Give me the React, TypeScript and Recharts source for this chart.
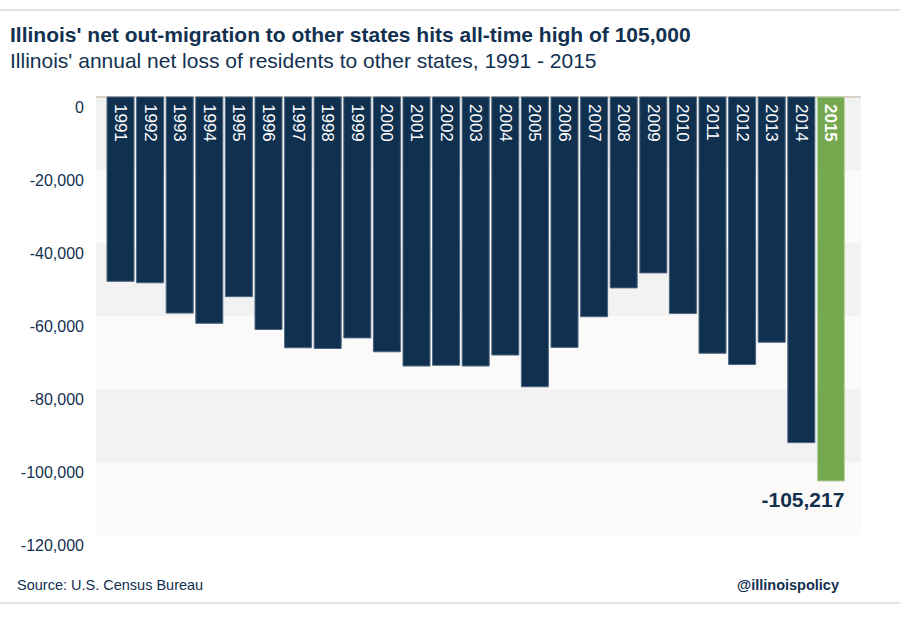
import React from "react";
import { BarChart, Bar, XAxis, YAxis, CartesianGrid, Cell, LabelList } from "recharts";

const years = [
  "1991", "1992", "1993", "1994", "1995", "1996", "1997", "1998", "1999", "2000",
  "2001", "2002", "2003", "2004", "2005", "2006", "2007", "2008", "2009", "2010",
  "2011", "2012", "2013", "2014", "2015",
];
const netMigration = [
  -50500, -50900, -59200, -62000, -54700, -63700, -68700, -68900, -66000, -69800,
  -73700, -73500, -73700, -70700, -79400, -68600, -60200, -52300, -48200, -59300,
  -70200, -73300, -67200, -94700, -105217,
];
const yTicks = [0, -20000, -40000, -60000, -80000, -100000, -120000];
const highlightYear = "2015";

const NAVY = "#12304f";
const BAR = "#10304f";
const GREEN = "#76a84f";
const BAND_DARK = "#f2f2f2";
const BAND_LIGHT = "#fbfaf9";
const FONT = "'Liberation Sans', Arial, sans-serif";

const data = years.map((year, i) => ({ year, value: netMigration[i] }));
const fmt = (v: number) => v.toLocaleString("en-US");

function YTick({ x, y, payload }: any) {
  return (
    <text x={x} y={y + 10} textAnchor="end" dominantBaseline="central" fill={NAVY} fontSize={16} fontFamily={FONT}>
      {fmt(payload.value)}
    </text>
  );
}

function YearLabel({ x, y, width, height, value }: any) {
  const top = Math.min(y, y + height);
  const cx = x + width / 2;
  return (
    <text
      transform={`translate(${cx},${top + 7}) rotate(90)`}
      dominantBaseline="central"
      fill="#ffffff"
      fontSize={17}
      fontFamily={FONT}
      fontWeight={value === highlightYear ? "bold" : "normal"}
    >
      {value}
    </text>
  );
}

function ValueLabel({ x, y, width, height, index }: any) {
  if (years[index] !== highlightYear) return null;
  const bottom = Math.max(y, y + height);
  return (
    <text x={x + width} y={bottom + 18} textAnchor="end" dominantBaseline="central" fill={NAVY} fontSize={21} fontWeight="bold" fontFamily={FONT}>
      {fmt(netMigration[index])}
    </text>
  );
}

export default function App() {
  return (
    <div style={{ position: "relative", width: 900, height: 620, background: "#fff", overflow: "hidden" }}>
      <style>{`body{margin:0}`}</style>
      <div style={{ position: "absolute", left: 0, top: 9, width: 900, height: 2, background: "#e6e3df" }} />
      <div style={{ position: "absolute", left: 10, top: 23, fontFamily: FONT, fontWeight: "bold", fontSize: 21, color: NAVY, whiteSpace: "nowrap" }}>
        Illinois' net out-migration to other states hits all-time high of 105,000
      </div>
      <div style={{ position: "absolute", left: 10, top: 49, fontFamily: FONT, fontSize: 21, color: NAVY, whiteSpace: "nowrap" }}>
        Illinois' annual net loss of residents to other states, 1991 - 2015
      </div>
      <div style={{ position: "absolute", left: 0, top: 0 }}>
        <BarChart width={900} height={620} data={data} margin={{ top: 97, right: 39, bottom: 85, left: 10 }}>
          <CartesianGrid vertical={false} stroke="none" horizontalFill={[BAND_DARK, BAND_LIGHT]} fillOpacity={1} />
          {/* zero line sits on the top edge of the plot, since the domain tops out at 0 */}
          <CartesianGrid
            vertical={false}
            stroke="#d9d0c6"
            strokeWidth={2}
            horizontalCoordinatesGenerator={({ offset }: any) => [offset.top]}
          />
          <XAxis dataKey="year" hide padding={{ left: 10, right: 15 }} />
          <YAxis
            domain={[-120000, 0]}
            ticks={yTicks}
            width={86}
            tickSize={0}
            tickMargin={12}
            axisLine={false}
            tickLine={false}
            tick={<YTick />}
            interval={0}
          />
          <Bar dataKey="value" barSize={27} isAnimationActive={false} stroke="#4d6680" strokeWidth={1}>
            {data.map((d) => (
              <Cell key={d.year} fill={d.year === highlightYear ? GREEN : BAR} stroke={d.year === highlightYear ? "#b9d3a0" : "#4d6680"} />
            ))}
            <LabelList dataKey="year" content={<YearLabel />} />
            <LabelList dataKey="value" content={<ValueLabel />} />
          </Bar>
        </BarChart>
      </div>
      <div style={{ position: "absolute", left: 17, top: 577, fontFamily: FONT, fontSize: 14.5, color: NAVY, whiteSpace: "nowrap" }}>
        Source: U.S. Census Bureau
      </div>
      <div style={{ position: "absolute", right: 61, top: 577, fontFamily: FONT, fontWeight: "bold", fontSize: 14.5, color: NAVY, whiteSpace: "nowrap" }}>
        @illinoispolicy
      </div>
      <div style={{ position: "absolute", left: 0, top: 602, width: 900, height: 2, background: "#e6e3df" }} />
    </div>
  );
}
